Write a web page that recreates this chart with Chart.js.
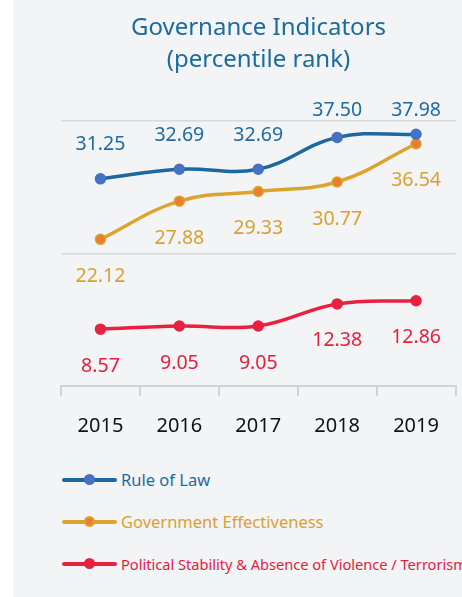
<!DOCTYPE html>
<html>
<head>
<meta charset="utf-8">
<script src="https://cdn.jsdelivr.net/npm/chart.js@4.4.1/dist/chart.umd.min.js"></script>
<style>
  html, body { margin: 0; padding: 0; background: #fff; }
  #panel {
    position: absolute; left: 13px; top: 0; width: 449px; height: 597px;
    background: #f3f4f6; overflow: hidden;
  }
  #wrap { position: absolute; left: -13px; top: 0; width: 462px; height: 466px; }
  #legend { position: absolute; left: 49px; top: 468px; width: 420px; }
  .item { position: relative; height: 24px; margin-bottom: 18px; white-space: nowrap;
    font-family: "Noto Sans", sans-serif; }
  .sample { position: absolute; left: 0; top: 10px; width: 55px; height: 4px; border-radius: 2px; }
  .dot { position: absolute; left: 22px; top: -4px; width: 11px; height: 11px; border-radius: 50%;
    box-sizing: border-box; border: 2px solid; }
  .txt { position: absolute; left: 59px; top: 0; line-height: 24px; }
</style>
</head>
<body>
<div id="panel">
  <div id="wrap"><canvas id="govChart"></canvas></div>
  <div id="legend"></div>
</div>
<script>
  const years = ["2015", "2016", "2017", "2018", "2019"];
  const ruleOfLaw = [31.25, 32.69, 32.69, 37.5, 37.98];
  const govEffectiveness = [22.12, 27.88, 29.33, 30.77, 36.54];
  const politicalStability = [8.57, 9.05, 9.05, 12.38, 12.86];
  const seriesNames = [
    "Rule of Law",
    "Government Effectiveness",
    "Political Stability & Absence of Violence / Terrorism",
  ];

  const BLUE = "#1b69a0";
  const GOLD = "#dba42c";
  const RED = "#e8213f";

  // value labels drawn next to each point
  const valueLabels = {
    id: "valueLabels",
    afterDatasetsDraw(chart) {
      const ctx = chart.ctx;
      const top = chart.chartArea.top;
      ctx.save();
      ctx.font = "19.5px 'Noto Sans', sans-serif";
      ctx.textAlign = "center";
      ctx.textBaseline = "middle";
      chart.data.datasets.forEach((ds, i) => {
        const meta = chart.getDatasetMeta(i);
        ctx.fillStyle = ds.labelColor;
        meta.data.forEach((pt, j) => {
          let y;
          if (ds.labelPos === "above") {
            y = Math.max(pt.y - 34, top - 10);
          } else {
            y = pt.y + 37;
          }
          ctx.fillText(ds.data[j].toFixed(2), pt.x, y);
        });
      });
      ctx.restore();
    },
  };

  const ctx = document.getElementById("govChart").getContext("2d");
  const chart = new Chart(ctx, {
    type: "line",
    data: {
      labels: years,
      datasets: [
        {
          label: seriesNames[0],
          data: ruleOfLaw,
          borderColor: BLUE,
          backgroundColor: "#4472c4",
          pointBorderColor: "#4472c4",
          labelColor: "#1f6aa3",
          labelPos: "above",
        },
        {
          label: seriesNames[1],
          data: govEffectiveness,
          borderColor: GOLD,
          backgroundColor: "#ed7d31",
          pointBorderColor: GOLD,
          labelColor: "#d8a22e",
          labelPos: "below",
        },
        {
          label: seriesNames[2],
          data: politicalStability,
          borderColor: RED,
          backgroundColor: RED,
          pointBorderColor: RED,
          labelColor: "#e3213f",
          labelPos: "below",
        },
      ],
    },
    options: {
      responsive: true,
      maintainAspectRatio: false,
      animation: false,
      layout: { padding: { left: 61, right: 6, bottom: 10 } },
      elements: {
        line: { borderWidth: 3.5, tension: 0.4 },
        point: { radius: 5, borderWidth: 1.5 },
      },
      plugins: {
        legend: { display: false },
        tooltip: { enabled: false },
        title: {
          display: true,
          text: ["Governance Indicators", "(percentile rank)"],
          color: "#1a6c9e",
          font: { family: "'Noto Sans', sans-serif", size: 24, weight: "normal", lineHeight: 1.35 },
          padding: { top: 12, bottom: 44 },
        },
      },
      scales: {
        x: {
          offset: true,
          grid: {
            display: true,
            offset: true,
            drawOnChartArea: false,
            drawTicks: true,
            tickLength: 10,
            color: "#d3d3d3",
            lineWidth: 2,
          },
          border: { display: true, color: "#d3d3d3", width: 2 },
          ticks: {
            color: "#111",
            padding: 18,
            font: { family: "'Noto Sans', sans-serif", size: 20 },
          },
        },
        y: {
          min: 0,
          max: 40,
          ticks: { display: false, stepSize: 20 },
          border: { display: false },
          grid: { color: "#d9d9d9", lineWidth: 1.5, drawTicks: false },
        },
      },
    },
    plugins: [valueLabels],
  });

  // legend with a line-and-dot sample per series
  const legend = document.getElementById("legend");
  chart.data.datasets.forEach((ds, i) => {
    const item = document.createElement("div");
    item.className = "item";
    item.innerHTML =
      '<span class="sample" style="background:' + ds.borderColor + '">' +
      '<span class="dot" style="background:' + ds.backgroundColor + ";border-color:" + ds.pointBorderColor + '"></span></span>' +
      '<span class="txt" style="color:' + ds.labelColor + ";font-size:" + (i === 2 ? 14.6 : 16.5) + 'px">' + ds.label + "</span>";
    legend.appendChild(item);
  });
</script>
</body>
</html>
